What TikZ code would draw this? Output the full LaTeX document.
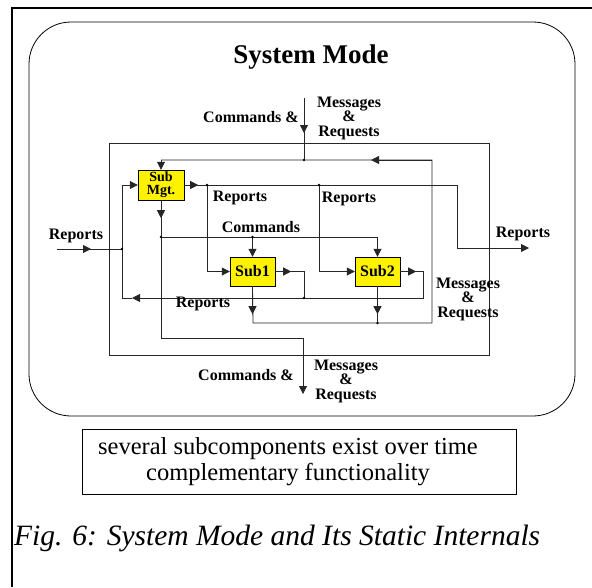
\documentclass[tikz,border=0pt]{standalone}
\usepackage{fontspec}
\setmainfont{Liberation Serif}
\usetikzlibrary{arrows.meta}

\tikzset{
  subbox/.style={draw, fill=yellow, minimum width=46pt, minimum height=30pt, inner sep=0pt,
    font=\bfseries\fontsize{14}{13}\selectfont, align=center},
  lbl/.style={font=\bfseries\fontsize{16}{14.5}\selectfont, align=center, inner sep=0pt},
  wire/.style={line width=0.8pt, black!85},
  tip/.style={wire, -{Triangle[length=8pt,width=8pt]}},
  jdot/.style={circle, fill, inner sep=0pt, minimum size=2.6pt},
}

\begin{document}
\begin{tikzpicture}[x=1pt, y=-1pt]
		\useasboundingbox (0,0) rectangle (592,587);
		%page frame
		\draw[line width=2pt] (12,587) -- (12,7.5) -- (592,7.5);
		
		%mode box
		\draw[line width=0.8pt, rounded corners=42pt] (29,22) rectangle (575,416);
		\node (title) at (311,57) [font=\bfseries\fontsize{27}{27}\selectfont]{System Mode};
		\draw[wire] (109,143) rectangle (489,355);
		
		%sub components
		\node (mgt) at (161,185) [subbox]{Sub\\Mgt.};
		\node (sa) at (252.5,271.5) [subbox, font=\bfseries\fontsize{16}{16}\selectfont, minimum width=45pt, minimum height=29pt]{Sub1};
		\node (sb) at (377.5,271.5) [subbox, font=\bfseries\fontsize{16}{16}\selectfont, minimum width=45pt, minimum height=29pt]{Sub2};
		
		\coordinate (inTop) at (304,98);
		\coordinate (inTip) at (304,133);
		\coordinate (jTop) at (304,160);
		\coordinate (tr) at (432,160);
		\coordinate (trTip) at (371,160);
		\coordinate (bl) at (253,323);
		\coordinate (br) at (432,323);
		\coordinate (r1) at (207,185);
		\coordinate (r2) at (319,185);
		\coordinate (r3) at (457,185);
		\coordinate (r4) at (457,248);
		\coordinate (outR) at (529,248);
		\coordinate (cmdJ) at (161,237);
		\coordinate (dl) at (161,338);
		\coordinate (dr) at (303,338);
		\coordinate (outB) at (303,394);
		\coordinate (ra) at (304,298);
		\coordinate (rb) at (423,298);
		\coordinate (fb) at (122,298);
		\coordinate (fbTip) at (132,298);
		\coordinate (fbTop) at (122,185);
		\coordinate (inL) at (57,249);
		\coordinate (inLTip) at (91,249);
		\coordinate (jL) at (122,249);
		
		%input from above
		\draw[wire] (inTop) -- (jTop);
		\draw[tip] (inTop) -- (inTip);
		\node (cmdTop) at (299,117) [lbl, anchor=east]{Commands \&};
		\node (msgTop) at (349,118) [lbl]{Messages\\\&\\Requests};
		
		%messages back to mgt
		\draw[wire] (sa.south) -- (bl) -- (br) -- (tr) -- (mgt.north |- tr);
		\draw[tip] (tr) -- (trTip);
		\draw[tip] (mgt.north |- tr) -- (mgt.north);
		\draw[tip] (sa.south) -- ++(0,28);
		\draw[wire] (sb.south) -- (sb.south |- bl);
		\draw[tip] (sb.south) -- ++(0,28);
		\node (msgR) at (468,299) [lbl]{Messages\\\&\\Requests};
		
		%reports out of mgt
		\draw[tip] (mgt.east) -- (r3) -- (r4) -- (outR);
		\draw[tip] (mgt.east) -- ++(14,0);
		\draw[tip] (r1) |- (sa.west);
		\draw[tip] (r2) |- (sb.west);
		\node (repA) at (240,198) [lbl]{Reports};
		\node (repB) at (349,199) [lbl]{Reports};
		\node (repOut) at (523,234) [lbl]{Reports};
		
		%commands out of mgt
		\draw[wire] (mgt.south) -- (dl) -- (dr);
		\draw[tip] (dr) -- (outB);
		\draw[tip] (mgt.south) -- ++(0,18);
		\draw[wire] (cmdJ) -- (sb.north |- cmdJ);
		\draw[tip] (sa.north |- cmdJ) -- (sa.north);
		\draw[tip] (sb.north |- cmdJ) -- (sb.north);
		\node (cmdIn) at (261,227) [lbl]{Commands};
		\node (cmdBot) at (294,375) [lbl, anchor=east]{Commands \&};
		\node (msgBot) at (346,381) [lbl]{Messages\\\&\\Requests};
		
		%reports from subs
		\draw[wire] (sa.east) -- (sa.east -| ra) -- (ra);
		\draw[tip] (sa.east) -- ++(16,0);
		\draw[tip] (sb.east) -- (sb.east -| rb) -- (rb) -- (fbTip);
		\draw[tip] (sb.east) -- ++(16,0);
		\draw[wire] (fbTip) -- (fb) -- (fbTop);
		\draw[tip] (fbTop) -- (mgt.west);
		\node (repBack) at (203,304) [lbl]{Reports};
		
		%reports from outside
		\draw[wire] (inL) -- (jL);
		\draw[tip] (inL) -- (inLTip);
		\node (repIn) at (76,236) [lbl]{Reports};
		
		\foreach \j in {jTop, sb.south |- bl, r1, r2, cmdJ, sa.north |- cmdJ, ra, jL}{
			\node at (\j) [jdot]{};
		}
		
		%note and caption
		\draw[line width=0.8pt] (82,429) rectangle (516,494);
		\node (note) at (288,462) [align=center, inner sep=0pt, font=\fontsize{24.5}{26}\selectfont]{several subcomponents exist over time\\complementary functionality};
		\node (cap) at (14,538) [anchor=west, inner sep=0pt, font=\itshape\fontsize{29.5}{30}\selectfont]{Fig. 6: System Mode and Its Static Internals};
\end{tikzpicture}
\end{document}
